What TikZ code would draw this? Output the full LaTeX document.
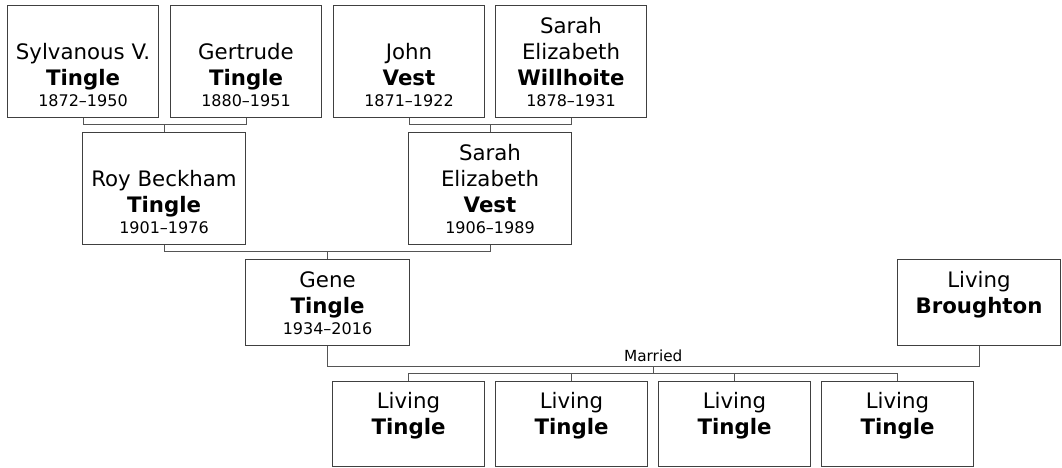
\documentclass[tikz,border=0pt]{standalone}
\usepackage{fontspec}
\setmainfont{DejaVu Sans}
\usetikzlibrary{calc}
\definecolor{cardline}{RGB}{64,64,64}
\definecolor{linkline}{RGB}{85,85,85}
\newcommand{\namefont}{\fontsize{21.3}{26}\selectfont}
\newcommand{\yearfont}{\fontsize{16}{20.6}\selectfont}
% width, height, name lines, years (text sits at the bottom of the card)
\newcommand{\card}[4]{\parbox[c][#2][b]{#1}{\setlength{\parskip}{0pt}\centering
  \namefont #3\par{\yearfont #4\vphantom{0}\par}\vspace{11pt}}}

\begin{document}
\begin{tikzpicture}[x=1pt,y=1pt,
    person/.style={draw=cardline,line width=1.1pt,fill=white,inner sep=0pt},
    link/.style={draw=linkline,line width=1pt}]
  \useasboundingbox (0,0) rectangle (1062,468);
  % grandparents
  \node[person] (syl) at (83,406.5) {\card{151pt}{112pt}{Sylvanous V.\\\textbf{Tingle}}{1872--1950}};
  \node[person] (ger) at (246,406.5) {\card{151pt}{112pt}{Gertrude\\\textbf{Tingle}}{1880--1951}};
  \node[person] (john) at (409,406.5) {\card{151pt}{112pt}{John\\\textbf{Vest}}{1871--1922}};
  \node[person] (will) at (571,406.5) {\card{151pt}{112pt}{Sarah\\Elizabeth\\\textbf{Willhoite}}{1878--1931}};
  % parents
  \node[person] (roy) at (164,279.5) {\card{163pt}{112pt}{Roy Beckham\\\textbf{Tingle}}{1901--1976}};
  \node[person] (sarah) at (490,279.5) {\card{163pt}{112pt}{Sarah\\Elizabeth\\\textbf{Vest}}{1906--1989}};
  % couple
  \node[person] (gene) at (327.5,165.5) {\card{164pt}{86pt}{Gene\\\textbf{Tingle}}{1934--2016}};
  \node[person] (brou) at (979,165.5) {\card{163pt}{86pt}{Living\\\textbf{Broughton}}{}};
  % children
  \foreach \k in {1,...,4}
    \node[person] (kid\k) at ({408.5+163*(\k-1)},44) {\card{152pt}{85pt}{Living\\\textbf{Tingle}}{}};

  \foreach \a/\b/\c in {syl/ger/roy, john/will/sarah, roy/sarah/gene}{
    \coordinate (\c-bar) at ($(\c.north)+(0,7.8)$);
    \draw[link] (\a.south) |- (\c-bar) -| (\b.south);
    \draw[link] (\c-bar) -- (\c.north);
  }

  \coordinate (wed) at ($(gene.south)!.5!(brou.south)+(0,-20.3)$);
  \draw[link] (gene.south) |- (wed) -| (brou.south);
  \node[font=\fontsize{15.3}{18}\selectfont,anchor=base,inner sep=0pt] (wedlbl) at ($(wed)+(0,5.3)$) {Married};
  \coordinate (kids) at ($(kid1.north)+(0,7.4)$);
  \draw[link] (kid1.north) |- (kids) -| (kid4.north);
  \foreach \k in {2,3}
    \draw[link] (kid\k.north) -- (kid\k.north |- kids);
  \draw[link] (wed) -- (wed |- kids);
\end{tikzpicture}
\end{document}
